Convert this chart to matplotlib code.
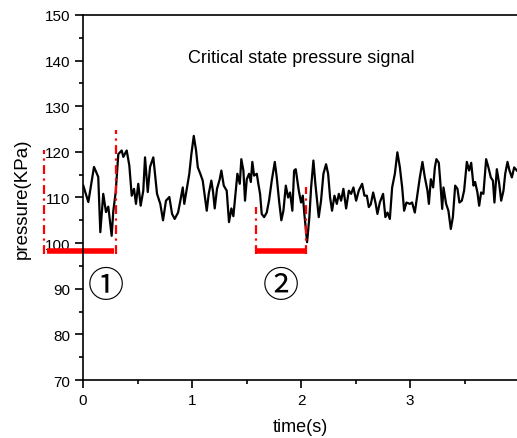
import numpy as np
import matplotlib.pyplot as plt
from matplotlib.ticker import MultipleLocator

plt.rcParams.update({
    "font.family": ["Liberation Sans", "DejaVu Sans"],
    "axes.linewidth": 1.2,
})

# pressure trace (time in s, pressure in KPa)
t = [0.003, 0.049, 0.101, 0.140, 0.159, 0.186, 0.211, 0.232, 0.263, 0.278,
     0.300, 0.324, 0.355, 0.370, 0.401, 0.425, 0.447, 0.468, 0.486, 0.507,
     0.529, 0.553, 0.569, 0.594, 0.615, 0.645, 0.679, 0.709, 0.734, 0.761,
     0.792, 0.817, 0.841, 0.872, 0.893, 0.915, 0.929, 0.954, 0.975, 0.994,
     1.016, 1.037, 1.053, 1.076, 1.098, 1.117, 1.135, 1.153, 1.177, 1.193,
     1.208, 1.229, 1.254, 1.269, 1.291, 1.318, 1.339, 1.361, 1.379, 1.401,
     1.416, 1.438, 1.452, 1.471, 1.486, 1.502, 1.523, 1.539, 1.553, 1.569,
     1.594, 1.608, 1.624, 1.639, 1.661, 1.685, 1.706, 1.731, 1.759, 1.777,
     1.798, 1.819, 1.838, 1.860, 1.881, 1.899, 1.920, 1.936, 1.951, 1.979,
     2.000, 2.016, 2.030, 2.055, 2.076, 2.092, 2.113, 2.131, 2.147, 2.162,
     2.183, 2.205, 2.229, 2.248, 2.266, 2.284, 2.306, 2.328, 2.346, 2.367,
     2.388, 2.413, 2.438, 2.459, 2.480, 2.505, 2.529, 2.560, 2.581, 2.603,
     2.621, 2.639, 2.661, 2.682, 2.700, 2.722, 2.752, 2.773, 2.792, 2.814,
     2.835, 2.860, 2.883, 2.906, 2.927, 2.945, 2.966, 2.997, 3.018, 3.043,
     3.067, 3.089, 3.113, 3.135, 3.159, 3.172, 3.190, 3.211, 3.227, 3.241,
     3.263, 3.278, 3.294, 3.306, 3.330, 3.351, 3.373, 3.392, 3.413, 3.434,
     3.452, 3.474, 3.495, 3.520, 3.541, 3.560, 3.581, 3.596, 3.617, 3.633,
     3.651, 3.672, 3.697, 3.718, 3.740, 3.759, 3.773, 3.795, 3.817, 3.835,
     3.856, 3.872, 3.893, 3.911, 3.933, 3.954, 3.979]
p = [112.6, 109.0, 116.7, 114.5, 102.4, 110.8, 106.8, 108.0, 101.6, 107.0,
     111.2, 119.5, 120.3, 118.9, 120.3, 117.0, 110.4, 111.9, 108.6, 113.0,
     108.2, 111.5, 118.8, 111.2, 116.7, 118.8, 110.8, 108.6, 105.0, 109.3,
     110.1, 106.4, 105.3, 106.7, 109.3, 112.2, 108.6, 112.2, 115.2, 119.5,
     123.5, 120.3, 116.6, 115.2, 113.7, 110.4, 107.1, 110.8, 113.7, 111.2,
     107.6, 111.9, 114.0, 115.9, 112.6, 111.5, 104.6, 107.6, 105.9, 111.5,
     115.2, 113.0, 118.4, 115.9, 109.3, 114.0, 115.2, 113.4, 117.8, 114.8,
     115.2, 113.0, 110.8, 106.4, 105.7, 106.7, 109.3, 113.7, 117.8, 114.4,
     109.3, 105.0, 107.1, 112.6, 110.0, 111.1, 107.1, 115.9, 116.2, 111.5,
     108.9, 110.4, 106.4, 100.2, 105.7, 112.2, 118.1, 113.0, 109.3, 105.7,
     109.3, 115.2, 117.3, 115.2, 110.0, 107.1, 110.4, 108.6, 110.8, 109.3,
     111.9, 107.6, 111.5, 110.8, 112.2, 109.3, 111.5, 113.0, 110.4, 110.4,
     107.9, 108.5, 111.1, 108.9, 106.4, 108.9, 110.8, 105.7, 106.7, 105.3,
     112.2, 115.2, 119.9, 116.6, 112.2, 107.1, 108.9, 108.6, 108.9, 106.7,
     110.8, 114.4, 117.8, 114.4, 111.5, 108.6, 114.0, 112.2, 116.6, 118.4,
     117.6, 113.0, 107.5, 112.2, 108.6, 107.1, 103.1, 105.7, 112.6, 111.9,
     108.9, 109.3, 111.5, 117.8, 115.9, 117.6, 112.6, 113.4, 111.1, 108.2,
     111.1, 110.8, 118.4, 116.6, 114.4, 113.7, 108.9, 116.2, 113.0, 109.3,
     111.5, 115.2, 117.8, 115.9, 114.4, 116.6, 115.9]

# red markers: horizontal bars (start, end) at bar level, vertical dash-dot lines (t, top)
bar_level = 98.2
bars = [(-0.333, 0.287), (1.587, 2.049)]
vlines = [(-0.358, 120.4), (0.303, 124.8), (1.587, 107.9), (2.049, 112.2)]
labels = ["\u2460", "\u2461"]
label_pos = [(0.211, 90.6), (1.814, 90.6)]

fig = plt.figure(figsize=(5.17, 4.39), dpi=100)
ax = fig.add_axes([0.1605, 0.1321, 0.8395, 0.8315])

ax.plot(t, p, color="k", lw=1.6)

for x0, x1 in bars:
    ax.plot([x0, x1], [bar_level, bar_level], color="red", lw=4, solid_capstyle="butt", clip_on=False)
for x, top in vlines:
    ax.plot([x, x], [bar_level - 0.6, top], color="red", lw=1.6, ls=(0, (4, 2, 1, 2)), clip_on=False)
for s, (x, y) in zip(labels, label_pos):
    ax.text(x, y, s, fontsize=26, ha="center", va="center",
            family=["Noto Sans CJK JP", "DejaVu Sans"])

ax.text(2.0, 140.6, "Critical state pressure signal", fontsize=13, ha="center", va="center")

ax.set_xlim(0, 3.98)
ax.set_ylim(70, 150)
ax.xaxis.set_major_locator(MultipleLocator(1))
ax.xaxis.set_minor_locator(MultipleLocator(0.5))
ax.yaxis.set_major_locator(MultipleLocator(10))
ax.yaxis.set_minor_locator(MultipleLocator(5))
ax.tick_params(which="major", direction="out", length=6, width=1.2, labelsize=11, pad=3)
ax.tick_params(which="minor", direction="out", length=3, width=1.2)
ax.spines["right"].set_visible(False)

ax.set_xlabel("time(s)", fontsize=13, labelpad=8)
ax.set_ylabel("pressure(KPa)", fontsize=13.5, labelpad=10)

fig.savefig("out.png", dpi=100)
